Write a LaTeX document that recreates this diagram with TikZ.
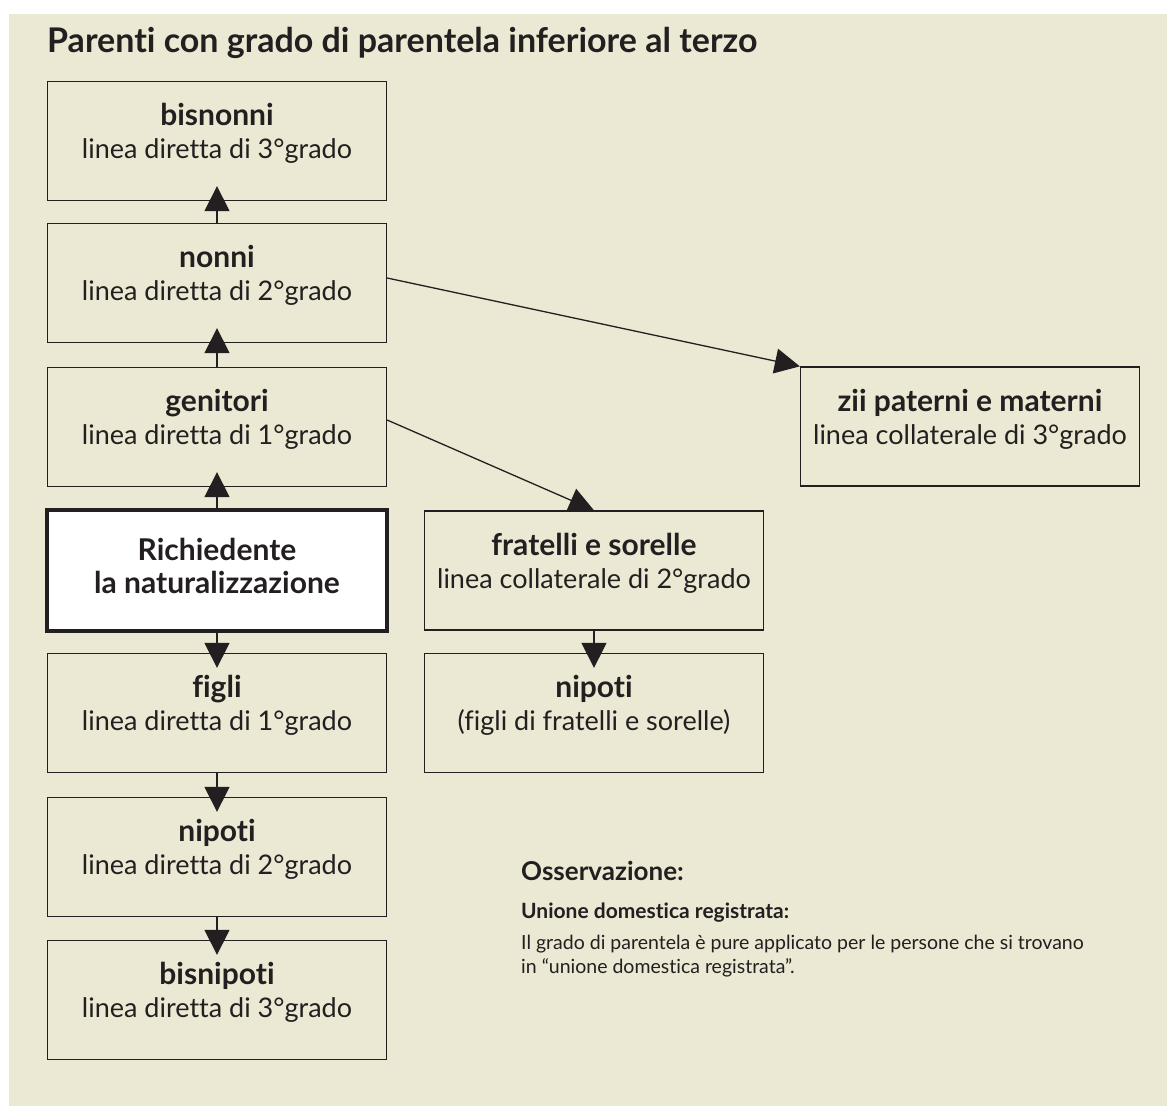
\documentclass[tikz,border=0pt]{standalone}
\usepackage{fontspec}
\setmainfont{Lato}[Ligatures={NoCommon,NoRare}]
\usepackage{xcolor}
\usepackage{tikz}
\usetikzlibrary{arrows.meta}
\definecolor{ink}{HTML}{231F20}
\definecolor{paper}{HTML}{EBE8D3}
\newcommand{\boxhead}[1]{{\fontsize{30}{33}\selectfont\bfseries #1}}
\tikzset{
  box/.style={draw=ink, line width=1.3pt, minimum width=339pt, minimum height=119pt,
    align=center, text=ink, inner sep=0pt, text depth=20pt,
    font=\fontsize{27}{33}\selectfont},
  mainbox/.style={box, line width=4pt, fill=white, minimum width=340pt, minimum height=121pt,
    text depth=10pt},
  link/.style={draw=ink, line width=1.3pt, -{Triangle[length=25pt,width=25pt]}},
  deep/.style={link, shorten >=-15pt},
  title/.style={text=ink, anchor=base west, inner sep=0pt, font=\fontsize{34}{38}\selectfont\bfseries},
  note/.style={text=ink, anchor=base west, inner sep=0pt, align=left},
}

\begin{document}
\begin{tikzpicture}[x=1pt, y=-1pt]
  \fill[white] (0,0) rectangle (1167,1106);
  \fill[paper] (9,14) rectangle (1167,1106);
  \useasboundingbox (0,0) rectangle (1167,1106);

  \node[title] (head) at (47,52) {Parenti con grado di parentela inferiore al terzo};

  % direct line
  \node[box] (bisnonni) at (217,141) {\boxhead{bisnonni}\\linea diretta di 3°grado};
  \node[box] (nonni) at (217,283) {\boxhead{nonni}\\linea diretta di 2°grado};
  \node[box] (genitori) at (217,427) {\boxhead{genitori}\\linea diretta di 1°grado};
  \node[mainbox] (self) at (217,570.5) {\boxhead{Richiedente}\\\boxhead{la naturalizzazione}};
  \node[box] (figli) at (217,713) {\boxhead{figli}\\linea diretta di 1°grado};
  \node[box] (nipoti) at (217,857) {\boxhead{nipoti}\\linea diretta di 2°grado};
  \node[box] (bisnipoti) at (217,1000) {\boxhead{bisnipoti}\\linea diretta di 3°grado};

  % collateral line
  \node[box] (fratelli) at (594,570.5) {\boxhead{fratelli e sorelle}\\linea collaterale di 2°grado};
  \node[box] (nipotifr) at (594,713) {\boxhead{nipoti}\\(figli di fratelli e sorelle)};
  \node[box] (zii) at (970,426.5) {\boxhead{zii paterni e materni}\\linea collaterale di 3°grado};

  \draw[deep] (nonni.north) -- (bisnonni.south);
  \draw[deep] (genitori.north) -- (nonni.south);
  \draw[deep] (self.north) -- (genitori.south);
  \draw[deep] (self.south) -- (figli.north);
  \draw[deep] (figli.south) -- (nipoti.north);
  \draw[deep] (nipoti.south) -- (bisnipoti.north);
  \draw[deep] (fratelli.south) -- (nipotifr.north);
  \draw[link] ([yshift=5pt]nonni.east) -- (zii.north west);
  \draw[link] ([yshift=7pt]genitori.east) -- (fratelli.north);

  \node[note, font=\fontsize{26}{30}\selectfont\bfseries] (oss) at (521,880) {Osservazione:};
  \node[note, font=\fontsize{21}{26}\selectfont\bfseries] (unione) at (521,918) {Unione domestica registrata:};
  \node[note, font=\fontsize{19.5}{24}\selectfont] (testo) at (521,973)
    {Il grado di parentela è pure applicato per le persone che si trovano\\in “unione domestica registrata”.};
\end{tikzpicture}
\end{document}
